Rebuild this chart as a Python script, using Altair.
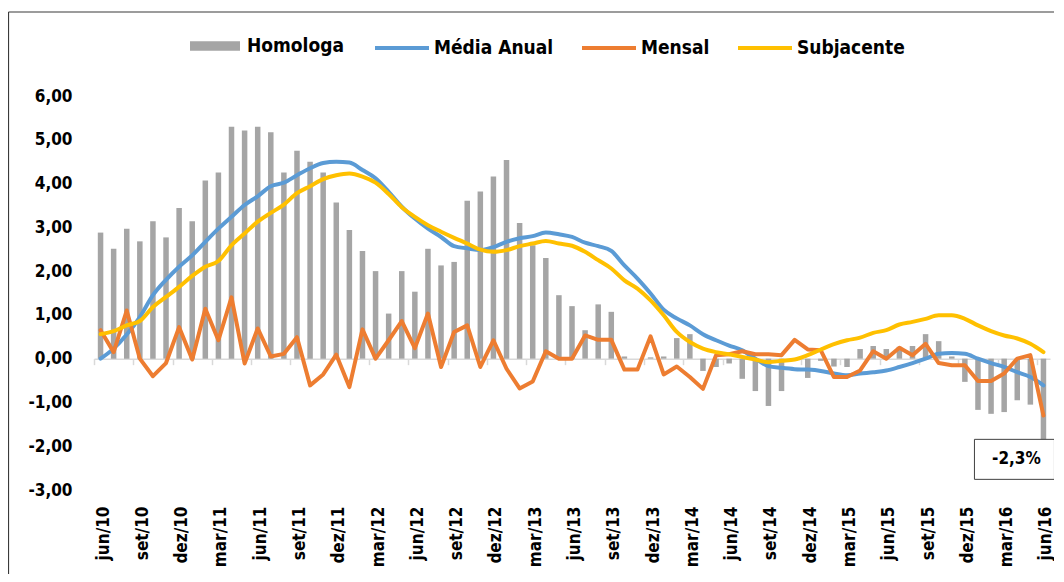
import altair as alt
import pandas as pd

meses = [
    "jun/10", "jul/10", "ago/10", "set/10", "out/10", "nov/10", "dez/10",
    "jan/11", "fev/11", "mar/11", "abr/11", "mai/11", "jun/11", "jul/11", "ago/11", "set/11", "out/11", "nov/11", "dez/11",
    "jan/12", "fev/12", "mar/12", "abr/12", "mai/12", "jun/12", "jul/12", "ago/12", "set/12", "out/12", "nov/12", "dez/12",
    "jan/13", "fev/13", "mar/13", "abr/13", "mai/13", "jun/13", "jul/13", "ago/13", "set/13", "out/13", "nov/13", "dez/13",
    "jan/14", "fev/14", "mar/14", "abr/14", "mai/14", "jun/14", "jul/14", "ago/14", "set/14", "out/14", "nov/14", "dez/14",
    "jan/15", "fev/15", "mar/15", "abr/15", "mai/15", "jun/15", "jul/15", "ago/15", "set/15", "out/15", "nov/15", "dez/15",
    "jan/16", "fev/16", "mar/16", "abr/16", "mai/16", "jun/16",
]

homologa = [
    2.88, 2.51, 2.97, 2.68, 3.14, 2.77, 3.44, 3.14, 4.07, 4.25,
    5.30, 5.21, 5.30, 5.17, 4.25, 4.75, 4.50, 4.25, 3.57, 2.94,
    2.46, 2.00, 1.03, 2.00, 1.53, 2.51, 2.13, 2.21, 3.61, 3.82,
    4.16, 4.54, 3.10, 2.59, 2.30, 1.45, 1.20, 0.65, 1.24, 1.07,
    0.05, 0.00, 0.03, 0.05, 0.47, 0.56, -0.28, -0.19, -0.11, -0.46,
    -0.74, -1.08, -0.74, -0.05, -0.44, -0.05, -0.18, -0.19, 0.22, 0.29,
    0.22, 0.27, 0.29, 0.56, 0.40, 0.05, -0.53, -1.17, -1.26, -1.22,
    -0.95, -1.05, -2.30,
]

media_anual = [
    0.00, 0.23, 0.55, 0.95, 1.45, 1.80, 2.10, 2.36, 2.67, 2.97,
    3.24, 3.51, 3.71, 3.94, 4.02, 4.19, 4.35, 4.47, 4.50, 4.48,
    4.31, 4.12, 3.81, 3.47, 3.20, 2.97, 2.78, 2.57, 2.52, 2.48,
    2.55, 2.67, 2.75, 2.80, 2.88, 2.84, 2.78, 2.65, 2.57, 2.46,
    2.13, 1.83, 1.49, 1.12, 0.92, 0.76, 0.56, 0.42, 0.30, 0.19,
    0.00, -0.17, -0.21, -0.24, -0.25, -0.28, -0.34, -0.38, -0.34, -0.31,
    -0.27, -0.19, -0.10, 0.00, 0.11, 0.13, 0.11, 0.00, -0.10, -0.19,
    -0.31, -0.42, -0.61,
]

mensal = [
    0.65, 0.15, 1.10, 0.00, -0.40, -0.10, 0.72, -0.02, 1.14, 0.42,
    1.40, -0.11, 0.69, 0.05, 0.11, 0.49, -0.61, -0.36, 0.09, -0.65,
    0.67, 0.00, 0.42, 0.86, 0.24, 1.03, -0.19, 0.61, 0.76, -0.19,
    0.42, -0.23, -0.68, -0.52, 0.17, 0.00, 0.00, 0.53, 0.43, 0.43,
    -0.25, -0.25, 0.51, -0.36, -0.18, -0.42, -0.69, 0.08, 0.10, 0.17,
    0.10, 0.10, 0.08, 0.43, 0.21, 0.19, -0.42, -0.42, -0.27, 0.17,
    0.00, 0.25, 0.08, 0.34, -0.10, -0.15, -0.15, -0.51, -0.51, -0.34,
    0.00, 0.08, -1.30,
]

subjacente = [
    0.56, 0.63, 0.76, 0.86, 1.18, 1.41, 1.64, 1.89, 2.10, 2.23,
    2.59, 2.86, 3.13, 3.33, 3.52, 3.78, 3.94, 4.10, 4.19, 4.23,
    4.16, 4.02, 3.76, 3.46, 3.24, 3.05, 2.90, 2.76, 2.63, 2.49,
    2.44, 2.48, 2.57, 2.63, 2.69, 2.63, 2.58, 2.44, 2.25, 2.06,
    1.79, 1.60, 1.33, 0.99, 0.61, 0.38, 0.23, 0.15, 0.10, 0.04,
    -0.02, -0.08, -0.05, -0.02, 0.08, 0.21, 0.33, 0.42, 0.48, 0.59,
    0.65, 0.78, 0.84, 0.91, 0.99, 0.99, 0.91, 0.76, 0.63, 0.53,
    0.46, 0.34, 0.15,
]

eixo_x = meses[::3]
eixo_y = [-3, -2, -1, 0, 1, 2, 3, 4, 5, 6]

serie_barras = ["Homologa"]
serie_linhas = ["Média Anual", "Mensal", "Subjacente"]
cor_barras = ["#A5A5A5"]
cor_linhas = ["#5B9BD5", "#ED7D31", "#FFC000"]

rotulo_mes = ["jun/16"]
rotulo_val = [-2.3]
rotulo_txt = ["-2,3%"]

df = pd.DataFrame({
    "mes": meses,
    "homol": homologa,
    "media": media_anual,
    "mensal": mensal,
    "subj": subjacente,
})

FONT = "DejaVu Sans Condensed, Liberation Sans Narrow, DejaVu Sans, sans-serif"
W, H = 956, 394
PAD = {"left": 86, "top": 88, "right": 4, "bottom": 84}
ZERO_PX = H * 6 / 9

x_scale = alt.Scale(domain=meses, paddingInner=0.58, paddingOuter=0.29)
y_scale = alt.Scale(domain=[-3, 6], nice=False, zero=False)

label_axis = alt.Axis(
    title=None, values=eixo_x, labelAngle=-90, domain=False, ticks=False, grid=False,
    labelPadding=16, labelOffset=3, labelFont=FONT, labelFontSize=17, labelFontWeight="bold",
    labelColor="#000000", labelOverlap=False, labelBound=False,
)
y_axis = alt.Axis(
    title=None, values=eixo_y, domain=False, ticks=False, grid=False,
    labelPadding=22, labelFont=FONT, labelFontSize=17, labelFontWeight="bold",
    labelColor="#000000",
    labelExpr="(datum.value < 0 ? '-' : '') + replace(format(abs(datum.value), '.2f'), '.', ',')",
)


def eixo_y_enc(campo):
    return alt.Y(campo, scale=y_scale, axis=y_axis)


base = alt.Chart(df)

bars = base.transform_calculate(serie="'Homologa'").mark_bar().encode(
    x=alt.X("mes:O", scale=x_scale, axis=label_axis),
    y=eixo_y_enc("homol:Q"),
    fill=alt.Fill(
        "serie:N",
        scale=alt.Scale(domain=serie_barras, range=cor_barras),
        legend=alt.Legend(
            title=None, orient="none", legendX=96, legendY=-75, padding=0,
            symbolType="M-1,-0.19H1V0.19H-1Z", symbolSize=2500, symbolStrokeWidth=0,
            symbolOpacity=1, labelFont=FONT, labelFontSize=19, labelFontWeight="bold",
            labelColor="#000000", labelOffset=7,
        ),
    ),
)

zero_axis = base.mark_bar(opacity=0).encode(
    x=alt.X("mes:O", scale=x_scale, axis=alt.Axis(
        title=None, orient="bottom", offset=-(H - ZERO_PX), values=eixo_x, labels=False,
        domain=True, domainColor="#D9D9D9", domainWidth=1.5, ticks=True,
        tickColor="#D9D9D9", tickWidth=1.5, tickSize=6, tickOffset=-6.55, grid=False,
    )),
    y=eixo_y_enc("homol:Q"),
)

stroke_legend = alt.Legend(
    title=None, orient="none", legendX=279, legendY=-77, direction="horizontal",
    padding=0, symbolType="stroke", symbolSize=2916, symbolStrokeWidth=4,
    labelFont=FONT, labelFontSize=19, labelFontWeight="bold", labelColor="#000000",
    labelOffset=3, columnPadding=20,
)
stroke_scale = alt.Scale(domain=serie_linhas, range=cor_linhas)


def linha(campo, nome, interp):
    return base.transform_calculate(serie=f"'{nome}'").mark_line(
        strokeWidth=4, interpolate=interp, strokeJoin="round", strokeCap="round"
    ).encode(
        x=alt.X("mes:O", scale=x_scale, axis=None),
        y=eixo_y_enc(f"{campo}:Q"),
        stroke=alt.Stroke("serie:N", scale=stroke_scale, legend=stroke_legend),
    )


l_media = linha("media", "Média Anual", "monotone")
l_mensal = linha("mensal", "Mensal", "linear")
l_subj = linha("subj", "Subjacente", "monotone")

df_rot = pd.DataFrame({"mes": rotulo_mes, "v": rotulo_val, "txt": rotulo_txt})
caixa = alt.Chart(df_rot).mark_point(
    shape="M-1,-0.5H1V0.5H-1Z", size=80 * 80, filled=True, fill="#FFFFFF",
    stroke="#404040", strokeWidth=1, opacity=1, xOffset=-29,
).encode(
    x=alt.X("mes:O", scale=x_scale, axis=None),
    y=eixo_y_enc("v:Q"),
)
texto = alt.Chart(df_rot).mark_text(
    font=FONT, fontSize=17, fontWeight="bold", color="#000000", dx=-27,
).encode(
    x=alt.X("mes:O", scale=x_scale, axis=None),
    y=eixo_y_enc("v:Q"),
    text="txt:N",
)

moldura_df = pd.DataFrame({"k": [0]})
moldura_topo = alt.Chart(moldura_df).mark_rule(color="#3A3A3A", strokeWidth=1.2).encode(
    x=alt.value(-85.5), x2=alt.value(W + 4), y=alt.value(-84)
)
moldura_esq = alt.Chart(moldura_df).mark_rule(color="#3A3A3A", strokeWidth=1.2).encode(
    x=alt.value(-85.5), y=alt.value(-84), y2=alt.value(H + 84)
)

chart = alt.layer(
    bars, zero_axis, l_media, l_mensal, l_subj, caixa, texto, moldura_topo, moldura_esq
).resolve_axis(x="independent").properties(
    width=W, height=H, padding=PAD,
    autosize=alt.AutoSizeParams(type="none"),
    background="#FFFFFF",
).configure_view(stroke=None)

chart.save("out.html", embed_options={"renderer": "svg", "actions": False})
